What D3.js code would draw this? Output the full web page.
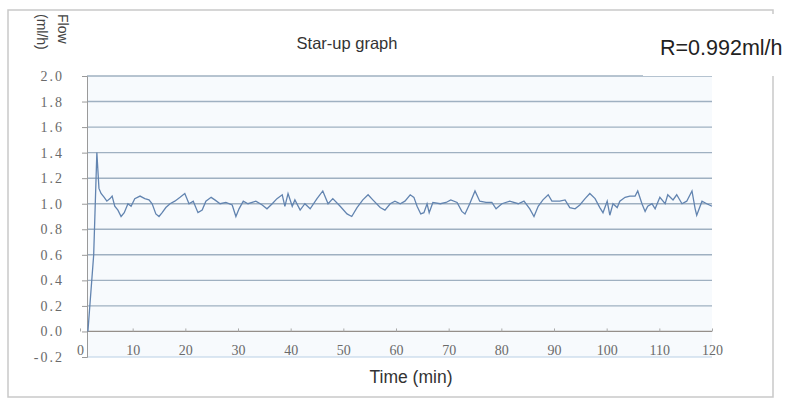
<!DOCTYPE html>
<html>
<head>
<meta charset="utf-8">
<script src="https://cdn.jsdelivr.net/npm/d3@7"></script>
<style>
  body { margin: 0; background: #fff; }
  svg text { font-family: "Liberation Sans", Arial, sans-serif; }
</style>
</head>
<body>
<svg id="chart" width="787" height="403"></svg>
<script>
// time (min) and flow (ml/h)
let times = [1.5, 2.6, 3.2, 3.6, 4.0, 4.6, 5.1, 5.7, 6.1, 6.6, 7.2, 7.8, 8.4, 9.1, 9.7, 10.4, 11.4, 12.3, 13.1, 13.7,
  14.4, 15.0, 15.6, 16.3, 17.1, 18.0, 19.0, 19.9, 20.7, 21.5, 22.4, 23.2, 23.9, 24.9, 25.6, 26.6, 27.7, 28.9, 29.6, 30.2,
  31.0, 31.9, 33.4, 34.6, 35.5, 36.5, 37.4, 38.4, 38.9, 39.5, 40.3, 40.8, 41.8, 42.7, 43.7, 45.0, 46.1, 47.1, 48.0, 49.4,
  50.7, 51.6, 52.6, 53.7, 54.7, 55.6, 57.0, 57.9, 58.9, 59.8, 60.8, 61.7, 62.7, 63.4, 64.0, 64.7, 65.3, 65.9, 66.3, 67.0,
  68.4, 69.5, 70.4, 71.6, 72.5, 73.1, 74.0, 75.0, 75.9, 77.1, 78.2, 79.0, 80.1, 81.6, 83.2, 84.3, 85.4, 86.2, 87.0, 87.9,
  88.9, 89.6, 91.1, 92.1, 93.0, 94.0, 94.9, 95.9, 96.8, 97.8, 98.7, 99.3, 100.1, 100.6, 101.2, 102.0, 102.5, 103.5, 104.4, 105.4,
  105.9, 106.7, 107.3, 107.8, 108.6, 109.2, 110.1, 111.1, 111.6, 112.6, 113.3, 114.3, 115.2, 116.2, 116.8, 117.1, 118.1, 119.0, 120.0];
let flows = [0.0, 0.6, 1.4, 1.12, 1.08, 1.05, 1.02, 1.04, 1.06, 0.98, 0.95, 0.9, 0.93, 1.0, 0.98, 1.04, 1.06, 1.04, 1.03, 1.0,
  0.92, 0.9, 0.93, 0.97, 1.0, 1.02, 1.05, 1.08, 1.0, 1.02, 0.93, 0.95, 1.02, 1.05, 1.03, 1.0, 1.01, 0.99, 0.9, 0.96,
  1.02, 1.0, 1.02, 0.99, 0.96, 1.0, 1.04, 1.07, 0.98, 1.08, 0.98, 1.03, 0.95, 1.0, 0.96, 1.04, 1.1, 1.0, 1.04, 0.98,
  0.92, 0.9, 0.97, 1.03, 1.07, 1.03, 0.97, 0.95, 1.0, 1.02, 1.0, 1.02, 1.07, 1.05, 0.98, 0.92, 0.93, 1.0, 0.93, 1.01,
  1.0, 1.01, 1.03, 1.01, 0.94, 0.92, 1.0, 1.1, 1.02, 1.01, 1.01, 0.96, 1.0, 1.02, 1.0, 1.02, 0.96, 0.9, 0.98, 1.03,
  1.07, 1.02, 1.02, 1.03, 0.97, 0.96, 0.99, 1.04, 1.08, 1.04, 0.97, 0.93, 1.02, 0.91, 1.0, 0.97, 1.02, 1.05, 1.06, 1.06,
  1.1, 1.0, 0.94, 0.98, 1.0, 0.96, 1.05, 1.0, 1.07, 1.03, 1.07, 1.0, 1.02, 1.1, 0.96, 0.91, 1.02, 1.0, 0.98];

let yTicks = [-0.2, 0.0, 0.2, 0.4, 0.6, 0.8, 1.0, 1.2, 1.4, 1.6, 1.8, 2.0];
let xTicks = [0, 10, 20, 30, 40, 50, 60, 70, 80, 90, 100, 110, 120];

let svg = d3.select('#chart');

let x = d3.scaleLinear().domain([0, 120]).range([80, 712]);
let y = d3.scaleLinear().domain([-0.2, 2.0]).range([357, 76]);
let axisX = 87; // where the flow axis sits
let serif = '"Liberation Serif", "Times New Roman", serif';

// outer frame
svg.append('rect')
  .attr('x', 8).attr('y', 10).attr('width', 765).attr('height', 387)
  .attr('fill', '#fff').attr('stroke', '#c9c9c9').attr('stroke-width', 1.5);

// plot background
svg.append('rect')
  .attr('x', axisX).attr('y', y(2.0))
  .attr('width', x(120) - axisX).attr('height', y(-0.2) - y(2.0))
  .attr('fill', '#f7fafd');

// grid lines
svg.append('g')
  .selectAll('line')
  .data(yTicks.filter(d => d > 0.05))
  .enter().append('line')
  .attr('x1', axisX).attr('x2', x(120))
  .attr('y1', d => y(d)).attr('y2', d => y(d))
  .attr('stroke', '#9fb0c1').attr('stroke-width', 1.4);

// bottom line at -0.2
svg.append('line')
  .attr('x1', axisX).attr('x2', x(120))
  .attr('y1', y(-0.2)).attr('y2', y(-0.2))
  .attr('stroke', '#b9d0e6').attr('stroke-width', 1.2);

// flow axis
let yAxis = svg.append('g')
  .attr('transform', 'translate(' + axisX + ',0)')
  .call(d3.axisLeft(y).tickValues(yTicks).tickSize(5).tickFormat(d => d.toFixed(1)));
yAxis.select('.domain').attr('stroke', '#9a9a9a');
yAxis.selectAll('.tick line').attr('stroke', '#9a9a9a');
yAxis.selectAll('.tick text')
  .attr('x', -23)
  .style('font-family', serif).style('font-size', '14px').style('fill', '#6a6a6a')
  .style('letter-spacing', '2px');

// time axis along zero
let xAxis = svg.append('g')
  .attr('transform', 'translate(0,' + y(0) + ')')
  .call(d3.axisTop(x).tickValues(xTicks).tickSize(3).tickSizeOuter(0).tickFormat(d3.format('d')));
xAxis.select('.domain').attr('stroke', '#958f8a').attr('stroke-width', 1.3)
  .attr('d', 'M' + axisX + ',0H' + x(120));
xAxis.selectAll('.tick line').attr('stroke', '#aaa');
xAxis.selectAll('.tick text')
  .attr('y', 24)
  .style('font-family', serif).style('font-size', '14px').style('fill', '#6a6a6a');

// the flow line
let line = d3.line()
  .x((d, i) => x(times[i]))
  .y(d => y(d));

svg.append('path')
  .datum(flows)
  .attr('d', line)
  .attr('fill', 'none')
  .attr('stroke', '#6284b0')
  .attr('stroke-width', 1.3);

// titles
svg.append('text')
  .attr('x', 347).attr('y', 49)
  .attr('text-anchor', 'middle')
  .attr('font-size', 16.5).attr('fill', '#333')
  .text('Star-up graph');

svg.append('text')
  .attr('x', 411).attr('y', 383)
  .attr('text-anchor', 'middle')
  .attr('font-size', 17.5).attr('fill', '#333')
  .text('Time (min)');

let yLabel = svg.append('text')
  .attr('transform', 'translate(58,14) rotate(90)')
  .attr('font-size', 14).attr('fill', '#444');
yLabel.append('tspan').attr('x', 0).attr('y', 0).text('Flow');
yLabel.append('tspan').attr('x', 0).attr('y', 21).text('(ml/h)');

// value box
svg.append('rect')
  .attr('x', 643).attr('y', 14).attr('width', 144).attr('height', 62)
  .attr('fill', '#fff');
svg.append('text')
  .attr('x', 660).attr('y', 55)
  .attr('font-size', 21.5).attr('fill', '#222')
  .text('R=0.992ml/h');
</script>
</body>
</html>
